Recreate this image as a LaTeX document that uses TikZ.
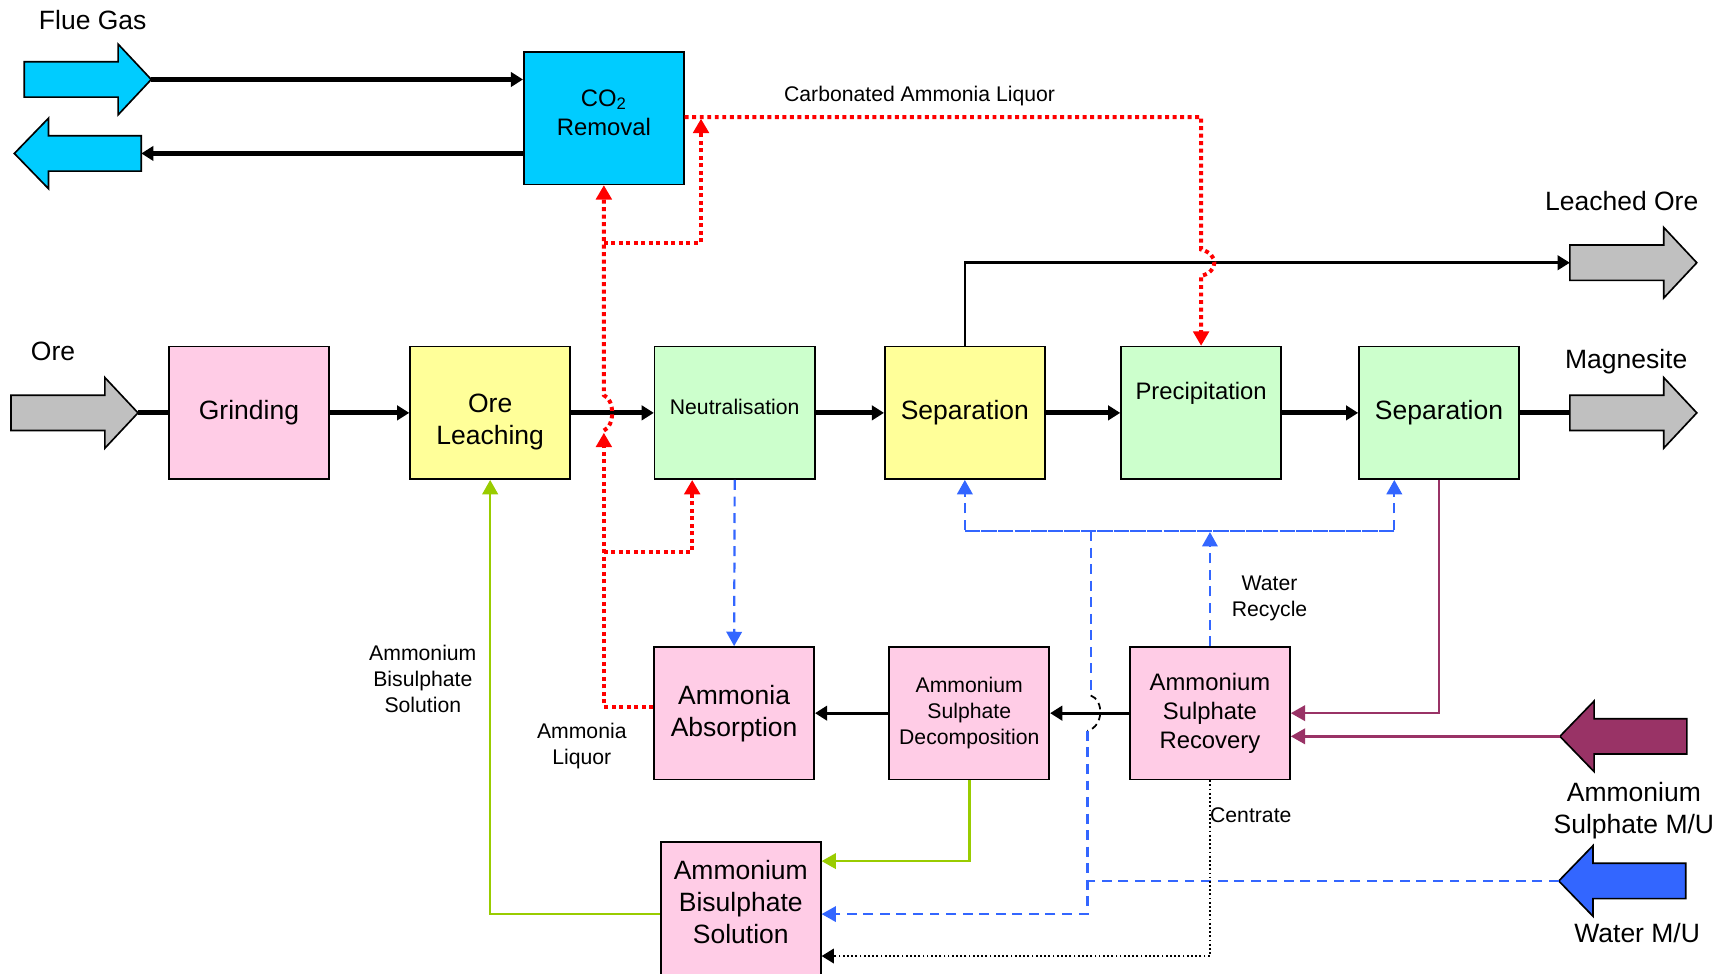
\documentclass[tikz,border=0pt]{standalone}
\usepackage{fontspec}
\setmainfont{Liberation Sans}
\usetikzlibrary{arrows.meta}
\definecolor{cyanbox}{HTML}{00CCFF}
\definecolor{pinkbox}{HTML}{FFCCE6}
\definecolor{yelbox}{HTML}{FFFF99}
\definecolor{grnbox}{HTML}{CCFFCC}
\definecolor{grayarr}{HTML}{C0C0C0}
\definecolor{bluedash}{HTML}{3366FF}
\definecolor{limeline}{HTML}{99CC00}
\definecolor{plumline}{HTML}{993366}
\definecolor{redline}{HTML}{FF0000}
\newcommand{\fA}{\fontsize{12}{14.5}\selectfont}
\newcommand{\fB}{\fontsize{10.8}{13.25}\selectfont}
\newcommand{\fC}{\fontsize{9.6}{11.8}\selectfont}
\newcommand{\Shift}[2]{\raisebox{#1}[\height][\depth]{\begin{tabular}{@{}c@{}}#2\end{tabular}}}
\newcommand{\FatR}[4]{%
  \draw[fatarr, fill=#1] (#2,#3-16) -- (#2+85,#3-16) -- (#2+85,#3-32) -- (#2+115,#3) -- (#2+85,#3+32) -- (#2+85,#3+16) -- (#2,#3+16) -- cycle;
  \coordinate (#4-tip) at (#2+115,#3);
  \coordinate (#4-tail) at (#2,#3);}
\newcommand{\FatL}[4]{%
  \draw[fatarr, fill=#1] (#2,#3-16) -- (#2-84,#3-16) -- (#2-84,#3-32) -- (#2-115,#3) -- (#2-84,#3+32) -- (#2-84,#3+16) -- (#2,#3+16) -- cycle;
  \coordinate (#4-tip) at (#2-115,#3);
  \coordinate (#4-tail) at (#2,#3);}
\begin{document}
\begin{tikzpicture}[x=0.5pt, y=-0.5pt,
  box/.style={draw, line width=0.75pt, minimum width=72.5pt, minimum height=60pt, inner sep=0pt, align=center, font=\fA},
  lbl/.style={align=center, inner sep=0pt},
  fatarr/.style={draw, line width=0.75pt, line join=miter},
  thickln/.style={line width=2.2pt},
  medln/.style={line width=1.5pt},
  thinln/.style={line width=1.2pt},
  tipT/.style={-{Triangle[length=5.5pt,width=6.5pt]}},
  tipC/.style={-{Triangle[length=6.5pt,width=7pt]}},
  reddot/.style={draw=redline, line width=1.8pt, dash pattern=on 1.8pt off 1.6pt, tipC, color=redline},
  bluedsh/.style={draw=bluedash, line width=1pt, dash pattern=on 4.5pt off 3pt, color=bluedash},
  greenln/.style={draw=limeline, line width=1.2pt, color=limeline},
  plumln/.style={draw=plumline, line width=1.2pt, color=plumline},
  blackdot/.style={line width=1pt, dash pattern=on 0.8pt off 1.1pt}]
\useasboundingbox (0,0) rectangle (1568,882);
\fill[white] (0,0) rectangle (1568,882);

% boxes
\node[box, fill=cyanbox, font=\fB] (co2) at (547,107) {\Shift{1.5pt}{CO\textsubscript{2}\\Removal}};
\node[box, fill=pinkbox] (grind) at (225.5,374) {Grinding};
\node[box, fill=yelbox] (oreleach) at (444,374) {\Shift{-4pt}{Ore\\Leaching}};
\node[box, fill=grnbox, font=\fC] (neut) at (665.5,374) {\raisebox{2.5pt}[\height][\depth]{Neutralisation}};
\node[box, fill=yelbox] (sep1) at (874,374) {Separation};
\node[box, fill=grnbox, font=\fB] (prec) at (1088,374) {\raisebox{9pt}[\height][\depth]{Precipitation}};
\node[box, fill=grnbox] (sep2) at (1303.5,374) {Separation};
\node[box, fill=pinkbox] (amabs) at (665,646) {Ammonia\\Absorption};
\node[box, fill=pinkbox, font=\fC] (decomp) at (878,646) {Ammonium\\Sulphate\\Decomposition};
\node[box, fill=pinkbox, font=\fB] (recov) at (1096,646) {Ammonium\\Sulphate\\Recovery};
\node[box, fill=pinkbox] (bisul) at (671,823) {\Shift{1.5pt}{Ammonium\\Bisulphate\\Solution}};

% fat arrows
\FatR{cyanbox}{22}{72}{fgin}
\FatL{cyanbox}{128}{139}{fgout}
\FatR{grayarr}{10}{374}{ore}
\FatR{grayarr}{1422}{238}{lo}
\FatR{grayarr}{1422}{374}{mag}
\FatL{plumline}{1528}{667}{asmu}
\FatL{bluedash}{1527}{798}{wmu}

% flue gas lines
\draw[thickln, tipT] (fgin-tip) -- (co2.west |- fgin-tip);
\draw[thickln, tipT] (co2.west |- fgout-tail) -- (fgout-tail);

% main row
\draw[thickln] (ore-tip) -- (grind.west);
\draw[thickln, tipT] (grind.east) -- (oreleach.west);
\draw[thickln, tipT] (oreleach.east) -- (neut.west);
\draw[thickln, tipT] (neut.east) -- (sep1.west);
\draw[thickln, tipT] (sep1.east) -- (prec.west);
\draw[thickln, tipT] (prec.east) -- (sep2.west);
\draw[thickln] (sep2.east) -- (mag-tail);
\draw[thinln, tipT] (sep1.north) |- (lo-tail);

% red dotted
\draw[reddot] (co2.east |- 0,106) -- (1088,106) -- (1088,226) .. controls (1104,230) and (1104,246) .. (1088,250) -- (prec.north);
\draw[reddot] ([yshift=3pt]amabs.west) -| (547,392);
\draw[reddot] (547,390) .. controls (557,386) and (557,362) .. (547,358) -- (co2.south);
\draw[reddot] (547,500) -- (627,500) -- (627,0 |- neut.south);
\draw[reddot] (547,220) -- (635,220) -- (635,107.5);

% blue dashed
\draw[bluedsh, tipC] (neut.south) -- (amabs.north);
\draw[bluedsh, tipC] (recov.north) -- (recov.north |- 0,482);
\draw[bluedsh, tipC] (1263,481) -- (sep1.south |- 0,481) -- (sep1.south);
\draw[bluedsh, tipC] (sep1.south |- 0,481) -- (1263,481) -- (1263,0 |- sep2.south);
\draw[bluedsh] (988,481) -- (988,630);
\draw[line width=0.8pt, dash pattern=on 3pt off 2pt] (988,630) .. controls (1000,634) and (1000,658) .. (985,662);
\draw[bluedsh, tipC] (985,662) -- (985,828) -- (bisul.east |- 0,828);
\draw[bluedsh] (wmu-tip) -- (985,0 |- wmu-tip);

% black arrows bottom row
\draw[medln, tipT] (recov.west) -- (decomp.east);
\draw[medln, tipT] (decomp.west) -- (amabs.east);

% green
\draw[greenln, tipC] (decomp.south) |- (bisul.east |- 0,780);
\draw[greenln, tipC] (bisul.west |- 0,828) -| (oreleach.south);

% purple
\draw[plumln, tipC] (sep2.south) |- (recov.east);
\draw[plumln, tipC] (asmu-tip) -- (recov.east |- asmu-tip);

% centrate
\draw[blackdot, tipT] (recov.south) |- (bisul.east |- 0,866);

% labels
\node[lbl, font=\fA] (lflue) at (84,18) {Flue Gas};
\node[lbl, font=\fC] (lcal) at (833,87) {Carbonated Ammonia Liquor};
\node[lbl, font=\fA] (llo) at (1469,182) {Leached Ore};
\node[lbl, font=\fA] (lmag) at (1473,328) {Magnesite};
\node[lbl, font=\fA] (lore) at (48,318) {Ore};
\node[lbl, font=\fC] (lwr) at (1150,542) {Water\\Recycle};
\node[lbl, font=\fC] (labs) at (383,615) {Ammonium\\Bisulphate\\Solution};
\node[lbl, font=\fC] (lal) at (527,676) {Ammonia\\Liquor};
\node[lbl, font=\fC] (lcen) at (1133,738) {Centrate};
\node[lbl, font=\fA] (lasmu) at (1480,734) {Ammonium\\Sulphate M/U};
\node[lbl, font=\fA] (lwmu) at (1483,845) {Water M/U};
\end{tikzpicture}
\end{document}
